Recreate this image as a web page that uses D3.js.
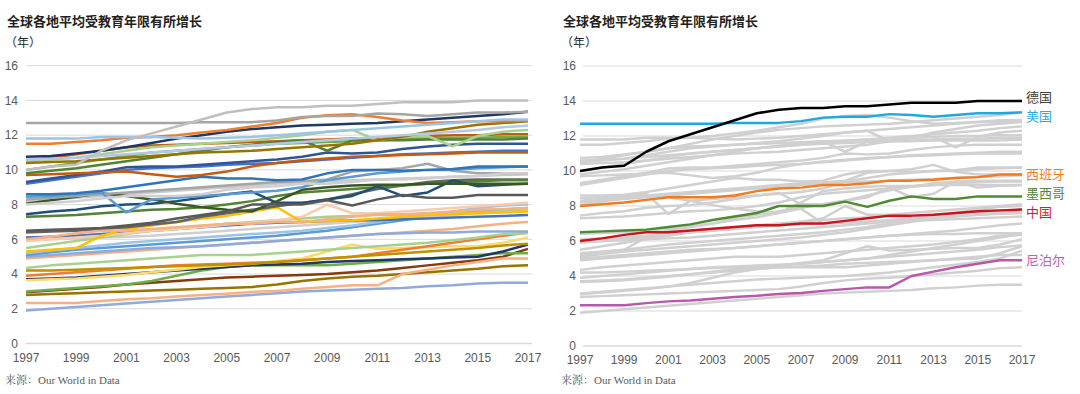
<!DOCTYPE html>
<html>
<head>
<meta charset="utf-8">
<script src="https://cdn.jsdelivr.net/npm/d3@7"></script>
<style>
  body { margin: 0; background: #fff; }
  svg { display: block; }
</style>
</head>
<body>
<svg id="chart" width="1080" height="394"></svg>
<script>
// years and tick labels
const years = [1997,1998,1999,2000,2001,2002,2003,2004,2005,2006,2007,2008,2009,2010,2011,2012,2013,2014,2015,2016,2017]
const tickYears = [1997,1999,2001,2003,2005,2007,2009,2011,2013,2015,2017]
const yTicks = [0,2,4,6,8,10,12,14,16]

// one row per country (years 1997-2017)
const seriesNames = ['德国','美国','西班牙','墨西哥','中国','尼泊尔',
  'c07','c08','c09','c10','c11','c12','c13','c14','c15','c16','c17','c18','c19','c20',
  'c21','c22','c23','c24','c25','c26','c27','c28','c29','c30','c31','c32','c33','c34',
  'c35','c36','c37','c38','c39','c40','c41','c42','c43','c44']
const seriesValues = [
  [10.0,10.2,10.3,11.1,11.7,12.1,12.5,12.9,13.3,13.5,13.6,13.6,13.7,13.7,13.8,13.9,13.9,13.9,14.0,14.0,14.0],
  [12.7,12.7,12.7,12.7,12.7,12.7,12.7,12.75,12.75,12.75,12.85,13.05,13.1,13.1,13.25,13.2,13.1,13.2,13.3,13.3,13.35],
  [8.0,8.1,8.2,8.35,8.5,8.5,8.5,8.6,8.85,9.0,9.05,9.2,9.2,9.3,9.45,9.45,9.5,9.6,9.65,9.8,9.8],
  [6.5,6.55,6.6,6.65,6.8,6.95,7.2,7.4,7.6,8.0,8.0,8.0,8.25,7.95,8.3,8.55,8.4,8.4,8.55,8.55,8.55],
  [6.0,6.15,6.35,6.5,6.5,6.6,6.7,6.8,6.9,6.9,7.0,7.0,7.15,7.3,7.45,7.45,7.5,7.6,7.7,7.75,7.8],
  [2.33,2.33,2.33,2.45,2.55,2.6,2.7,2.8,2.87,2.97,3.03,3.15,3.25,3.35,3.35,4.0,4.25,4.5,4.7,4.9,4.9],
  [11.8,11.8,11.8,11.9,11.9,11.9,11.85,11.8,11.85,11.9,12.0,12.1,12.2,12.3,12.4,12.5,12.6,12.7,12.8,12.9,12.9],
  [11.5,11.5,11.6,11.7,11.85,11.9,12.0,12.15,12.3,12.5,12.7,13.0,13.15,13.2,13.05,12.85,12.7,12.75,12.8,12.8,12.85],
  [10.75,10.8,10.95,11.1,11.3,11.55,11.8,12.0,12.2,12.35,12.45,12.55,12.6,12.65,12.7,12.8,12.9,13.0,13.1,13.2,13.35],
  [10.6,10.65,10.7,10.8,10.9,11.0,11.1,11.2,11.3,11.4,11.5,11.6,11.7,11.8,11.9,12.0,12.1,12.2,12.3,12.45,12.55],
  [10.4,10.45,10.5,10.6,10.7,10.8,10.9,11.0,11.05,11.1,11.2,11.3,11.4,11.5,11.7,11.9,12.2,12.4,12.6,12.7,12.8],
  [10.5,10.6,10.7,10.9,11.1,11.3,11.4,11.5,11.6,11.7,11.85,12.0,12.2,12.3,11.7,11.9,11.95,11.35,11.95,12.2,12.3],
  [9.8,9.95,10.1,10.3,10.5,10.7,10.9,11.1,11.3,11.45,11.6,11.7,11.1,11.7,11.7,11.7,11.75,11.75,11.75,11.75,11.8],
  [10.0,10.2,10.4,10.6,10.8,11.0,11.1,11.2,11.3,11.4,11.5,11.55,11.6,11.65,11.7,11.75,11.8,11.85,11.85,11.9,11.9],
  [9.7,9.75,9.8,9.85,9.9,9.75,9.6,9.7,9.9,10.2,10.4,10.55,10.65,10.75,10.8,10.85,10.9,10.95,11.0,11.0,11.0],
  [10.5,10.7,10.9,11.1,11.3,11.4,11.45,11.5,11.55,11.6,11.65,11.7,11.75,11.8,11.85,11.9,11.95,12.0,12.0,12.05,12.05],
  [9.3,9.5,9.7,9.9,10.15,10.2,10.2,10.3,10.4,10.5,10.6,10.75,11.0,10.95,11.0,11.2,11.35,11.45,11.5,11.5,11.5],
  [9.2,9.4,9.6,9.8,10.0,10.1,10.15,10.2,10.3,10.35,10.4,10.5,10.6,10.7,10.8,10.9,10.95,11.0,11.05,11.1,11.1],
  [8.6,8.6,8.65,8.8,9.0,9.2,9.4,9.6,9.5,9.5,9.4,9.45,9.8,10.0,10.0,9.95,10.0,10.05,10.2,10.2,10.2],
  [8.45,8.5,8.6,8.7,7.55,8.3,8.4,8.5,8.6,8.7,8.8,9.0,9.4,9.6,9.8,9.9,10.0,10.0,10.1,10.15,10.2],
  [8.3,8.4,8.5,8.6,8.7,8.8,8.9,9.0,9.1,9.2,9.3,9.35,9.45,9.9,10.0,10.1,10.35,9.95,9.8,9.8,9.8],
  [8.05,8.25,8.45,8.65,8.5,8.3,8.05,7.85,7.7,7.6,8.2,8.85,9.0,9.1,9.15,9.15,9.2,9.2,9.2,9.2,9.2],
  [7.45,7.6,7.7,7.9,8.0,8.05,8.2,8.4,8.6,8.75,8.1,8.1,8.3,8.5,9.05,8.5,8.7,9.4,9.05,9.15,9.2],
  [7.3,7.35,7.4,7.5,7.6,7.7,7.75,7.85,8.0,8.2,8.5,8.7,8.8,8.9,9.0,9.1,9.2,9.3,9.35,9.4,9.4],
  [6.4,6.45,6.5,6.6,6.7,6.85,7.0,7.3,7.5,7.7,7.9,8.1,8.3,8.6,8.9,9.1,9.3,9.4,9.45,9.45,9.45],
  [5.3,5.4,5.5,6.2,6.6,6.8,7.0,7.2,7.35,7.6,7.85,7.0,7.05,7.1,7.2,7.3,7.4,7.45,7.5,7.55,7.6],
  [5.9,6.0,6.1,6.2,6.35,6.5,6.6,6.7,6.85,6.95,7.1,7.3,8.0,7.5,7.5,7.6,7.7,7.8,7.9,8.0,8.1],
  [5.5,5.7,5.9,6.1,6.3,6.5,6.6,6.75,6.9,7.0,7.1,7.2,7.3,7.35,7.4,7.4,7.5,7.5,7.55,7.6,7.65],
  [6.1,6.15,6.2,6.3,6.4,6.5,6.6,6.7,6.8,6.9,6.95,7.0,7.05,7.1,7.1,7.15,7.2,7.25,7.3,7.35,7.4],
  [5.95,6.0,6.05,6.1,6.15,6.2,6.3,6.4,6.5,6.6,6.7,6.8,6.9,7.0,7.1,7.2,7.3,7.4,7.5,7.6,7.7],
  [5.2,5.35,5.5,5.65,5.8,5.9,6.0,6.1,6.2,6.3,6.4,6.5,6.65,6.8,7.0,7.2,7.4,7.6,7.8,7.95,8.0],
  [5.1,5.25,5.4,5.5,5.6,5.7,5.8,5.9,6.0,6.1,6.2,6.35,6.5,6.7,6.9,7.1,7.3,7.5,7.6,7.7,7.8],
  [5.0,5.1,5.2,5.3,5.4,5.5,5.55,5.6,5.7,5.8,5.9,6.0,6.1,6.2,6.3,6.35,6.4,6.4,6.45,6.45,6.45],
  [4.9,5.0,5.1,5.2,5.3,5.4,5.5,5.6,5.7,5.8,5.9,6.0,6.1,6.2,6.3,6.4,6.5,6.6,6.75,6.9,7.0],
  [4.35,4.5,4.6,4.7,4.8,4.9,5.0,5.1,5.1,5.1,5.2,5.3,5.4,5.5,5.6,5.7,5.8,5.95,6.1,6.3,6.35],
  [4.2,4.2,4.25,4.3,4.35,4.4,4.45,4.5,4.55,4.6,4.7,4.8,4.9,5.0,5.1,5.2,5.3,5.4,5.5,5.65,5.75],
  [3.9,4.0,4.1,4.2,4.3,4.4,4.5,4.55,4.6,4.65,4.7,4.8,4.9,5.0,5.2,5.4,5.6,5.8,6.0,6.2,6.4],
  [3.65,3.7,3.75,3.85,3.95,4.1,4.25,4.4,4.5,4.6,4.75,4.9,5.3,5.7,5.45,5.5,5.55,5.6,5.6,5.8,6.1],
  [3.7,3.75,3.8,3.9,4.0,4.1,4.2,4.3,4.4,4.5,4.55,4.6,4.7,4.75,4.8,4.85,4.9,4.95,5.0,5.3,5.7],
  [3.0,3.1,3.2,3.3,3.4,3.6,3.9,4.2,4.4,4.5,4.5,4.5,4.5,4.6,4.7,4.8,4.9,5.0,5.1,5.2,5.2],
  [2.95,3.05,3.15,3.25,3.4,3.5,3.6,3.7,3.8,3.85,3.9,3.95,4.0,4.1,4.2,4.35,4.5,4.65,4.8,5.0,5.45],
  [2.8,2.85,2.9,2.95,3.0,3.05,3.1,3.15,3.2,3.25,3.4,3.6,3.75,3.85,3.9,4.0,4.1,4.2,4.3,4.45,4.5],
  [1.9,2.0,2.1,2.2,2.3,2.4,2.5,2.6,2.7,2.8,2.9,3.0,3.05,3.1,3.15,3.2,3.3,3.35,3.45,3.5,3.5],
  [8.2,8.3,8.4,8.5,8.6,8.7,8.8,8.9,9.0,9.1,9.2,9.3,9.35,9.4,9.45,9.5,9.55,9.6,9.65,9.7,9.75]
]
// colour of each country in the left panel
const leftColors = ['#BFBFBF','#A5A5A5','#D0CECE','#595959','#F4B183','#F4B183',
  '#9DC3E6','#ED7D31','#203864','#B4C7E7','#997300','#A9D18E','#548235','#70AD47',
  '#C55A11','#C55A11','#2F5597','#4472C4','#2E75B6','#5B9BD5','#A5A5A5','#385723',
  '#1F4E79','#548235','#636363','#FFC000','#F8CBAD','#A9D18E','#4472C4','#D0CECE',
  '#9DC3E6','#5B9BD5','#8FAADC','#F4B183','#A9D18E','#BF9000','#ED7D31','#FFD966',
  '#203864','#70AD47','#843C0C','#997300','#8FAADC','#C9C9C9']

// highlighted countries in the right panel
const highlightNames = ['德国','美国','西班牙','墨西哥','中国','尼泊尔']
const highlightLine = ['#000000','#1FA8E0','#F47A20','#4E8A32','#C8161E','#B957AA']
const highlightText = ['#404040','#29ABE2','#F47B20','#4E8A3A','#D32027','#C060B0']

const titleText = '全球各地平均受教育年限有所增长'
const unitText = '（年）'
const sourceText = 'Our World in Data'

const svg = d3.select('#chart')
const series = seriesNames.map((n, i) => ({name: n, values: seriesValues[i], color: leftColors[i]}))

function drawPanel(g, opt) {
  const x = d3.scaleLinear().domain([1997, 2017]).range([opt.x0, opt.x1])
  const y = d3.scaleLinear().domain([0, 16]).range([opt.y0, opt.y1])

  // title
  g.append('text').attr('x', opt.tx).attr('y', 26)
    .attr('font-family', '"Noto Sans CJK SC", sans-serif').attr('font-weight', 700)
    .attr('font-size', 13).attr('fill', '#231f20').text(titleText)
  g.append('text').attr('x', opt.tx - 2).attr('y', 47)
    .attr('font-family', '"Noto Sans CJK SC", sans-serif')
    .attr('font-size', 12).attr('fill', '#231f20').text(unitText)

  // grid
  g.selectAll('line.grid').data(yTicks).enter().append('line')
    .attr('x1', opt.gx0).attr('x2', opt.gx1)
    .attr('y1', d => y(d)).attr('y2', d => y(d))
    .attr('stroke', '#d9d9d9').attr('stroke-width', d => d === 0 ? 1.5 : 1)

  g.selectAll('text.ytick').data(yTicks).enter().append('text')
    .attr('x', opt.lx).attr('y', d => y(d)).attr('dy', '0.35em')
    .attr('text-anchor', 'end')
    .attr('font-family', '"Liberation Sans", Arial, sans-serif')
    .attr('font-size', 12).attr('fill', '#595959').text(d => d)

  g.selectAll('text.xtick').data(tickYears).enter().append('text')
    .attr('x', d => x(d)).attr('y', opt.y0 + 18)
    .attr('text-anchor', 'middle')
    .attr('font-family', '"Liberation Sans", Arial, sans-serif')
    .attr('font-size', 12).attr('fill', '#595959').text(d => d)

  // source
  const src = g.append('text').attr('x', opt.tx - 2).attr('y', 384)
    .attr('font-size', 11).attr('fill', '#595959')
  src.append('tspan').attr('font-family', '"Noto Serif CJK SC", "Noto Sans CJK SC", serif').text('来源：')
  src.append('tspan').attr('font-family', '"Liberation Serif", "Times New Roman", serif').text(sourceText)

  const line = d3.line().x((d, i) => x(years[i])).y(d => y(d))
  return {x, y, line}
}

// left panel: every country in its own colour
const left = svg.append('g')
const L = drawPanel(left, {x0: 26, x1: 528, y0: 343.5, y1: 65.7, gx0: 26, gx1: 532, lx: 18, tx: 7})
left.selectAll('path.s').data(series.slice().reverse()).enter().append('path')
  .attr('d', d => L.line(d.values))
  .attr('fill', 'none').attr('stroke', d => d.color)
  .attr('stroke-width', 2.5).attr('stroke-linejoin', 'round')

// right panel: grey background, six highlighted
const right = svg.append('g')
const R = drawPanel(right, {x0: 580, x1: 1022, y0: 346, y1: 66, gx0: 583, gx1: 1022, lx: 576, tx: 563})
right.selectAll('path.grey').data(series.filter(d => !highlightNames.includes(d.name))).enter().append('path')
  .attr('d', d => R.line(d.values))
  .attr('fill', 'none').attr('stroke', '#d0d0d0')
  .attr('stroke-width', 2.5).attr('stroke-linejoin', 'round')

const hl = highlightNames.map((n, i) => ({
  name: n, values: seriesValues[seriesNames.indexOf(n)], line: highlightLine[i], text: highlightText[i]
}))
right.selectAll('path.hl').data(hl.slice().reverse()).enter().append('path')
  .attr('d', d => R.line(d.values))
  .attr('fill', 'none').attr('stroke', d => d.line)
  .attr('stroke-width', 2.5).attr('stroke-linejoin', 'round')

// end labels, nudged apart when too close
const gap = 19.5
const labelY = hl.map(d => R.y(d.values[d.values.length - 1]))
for (let i = 1; i < labelY.length; i++) {
  if (labelY[i] - labelY[i - 1] < gap) {
    const mid = (labelY[i] + labelY[i - 1]) / 2
    labelY[i - 1] = mid - gap / 2
    labelY[i] = mid + gap / 2
  }
}
right.selectAll('text.lab').data(hl).enter().append('text')
  .attr('x', 1026).attr('y', (d, i) => labelY[i]).attr('dy', '0.36em')
  .attr('font-family', '"Noto Sans CJK SC", sans-serif')
  .attr('font-size', 13).attr('fill', d => d.text).text(d => d.name)
</script>
</body>
</html>
